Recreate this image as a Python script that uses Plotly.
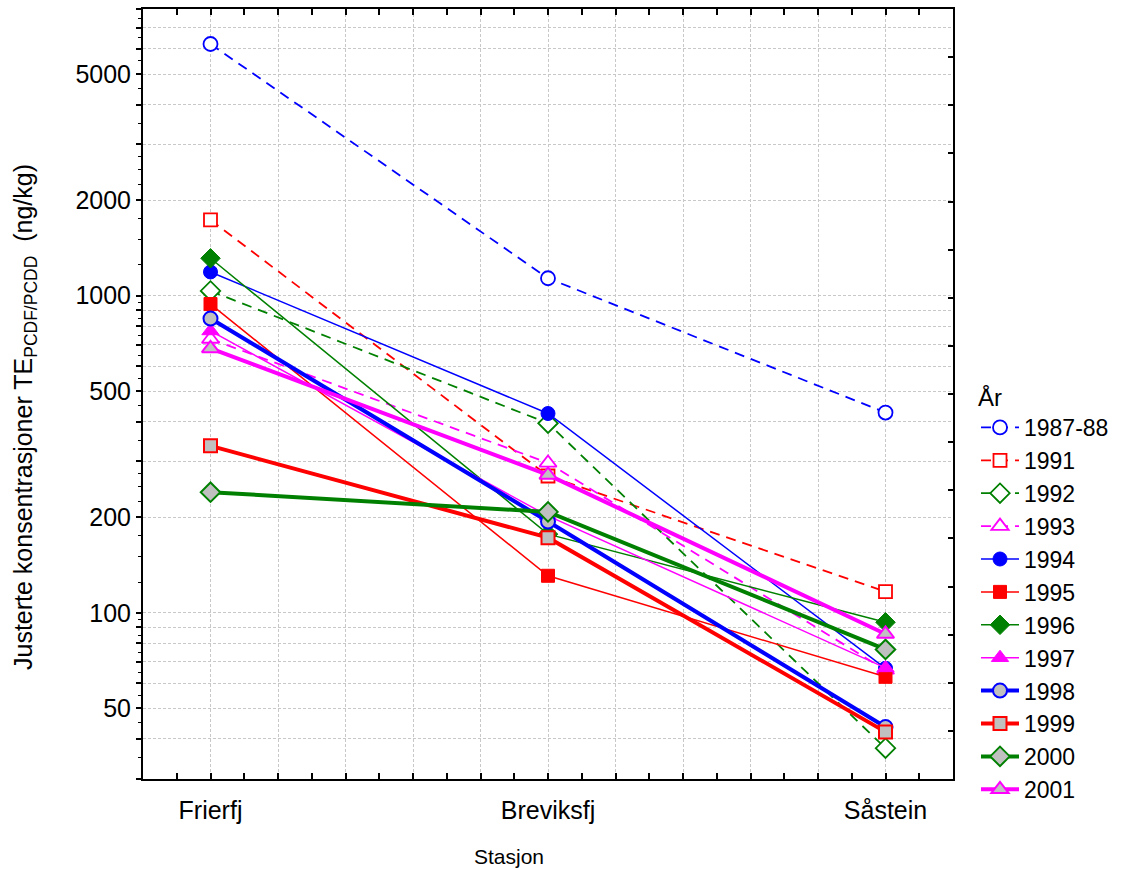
import plotly.graph_objects as go
import numpy as np

stations = ["Frierfj", "Breviksfj", "Såstein"]
years = ["1987-88", "1991", "1992", "1993", "1994", "1995", "1996", "1997", "1998", "1999", "2000", "2001"]

v_1987_88 = [6220, 1135, 428]
v_1991 = [1733, 270, 116.5]
v_1992 = [1035, 396, 37.4]
v_1993 = [730, 297, 66]
v_1994 = [1188, 425, 66.8]
v_1995 = [941, 130.8, 62.8]
v_1996 = [1312, 177, 93.3]
v_1997 = [774, 202, 67]
v_1998 = [847, 194, 43.6]
v_1999 = [336, 172.5, 42.1]
v_2000 = [240, 208, 76.6]
v_2001 = [682, 272, 85.7]

values = [v_1987_88, v_1991, v_1992, v_1993, v_1994, v_1995, v_1996, v_1997,
          v_1998, v_1999, v_2000, v_2001]

BLUE, RED, GREEN, MAG, GRAY = "#0000ff", "#ff0000", "#008000", "#ff00ff", "#c0c0c0"
colors = [BLUE, RED, GREEN, MAG] * 3
symbols = ["circle", "square", "diamond", "triangle-up"] * 3
msizes = {"circle": 14, "square": 13, "diamond": 15, "triangle-up": 15}

x_pos = list(range(len(stations)))

fig = go.Figure()
for i, (yr, vals) in enumerate(zip(years, values)):
    grp = i // 4
    c = colors[i]
    sym = symbols[i]
    if grp == 0:
        line = dict(color=c, width=1.8, dash="10px,7px")
        marker = dict(symbol=sym, size=msizes[sym], color="white", line=dict(color=c, width=1.8))
    elif grp == 1:
        line = dict(color=c, width=1.5)
        marker = dict(symbol=sym, size=msizes[sym], color=c, line=dict(color=c, width=1))
    else:
        line = dict(color=c, width=4)
        marker = dict(symbol=sym, size=msizes[sym], color=GRAY, line=dict(color=c, width=2))
    fig.add_trace(go.Scatter(x=x_pos, y=vals, name=yr, mode="lines+markers",
                             line=line, marker=marker, legendgroup=yr))

# empty trace for right-side axis ticks
fig.add_trace(go.Scatter(x=[], y=[], yaxis="y2", showlegend=False, hoverinfo="skip"))

# y axis ticks
grid_vals = []
for e in [1, 2, 3]:
    for d in range(1, 10):
        v = d * 10 ** e
        if 30 <= v <= 8000:
            grid_vals.append(v)
labels = {50: "50", 100: "100", 200: "200", 500: "500", 1000: "1000", 2000: "2000", 5000: "5000"}
grid_text = [labels.get(v, "") for v in grid_vals]
minor_vals = []
for e in [1, 2, 3]:
    b = 10 ** e
    for v in np.arange(1, 3, 0.25):
        minor_vals.append(v * b)
    for v in np.arange(3, 10, 0.5):
        minor_vals.append(v * b)
minor_vals = [float(v) for v in minor_vals if 30 <= v <= 8000 and v not in grid_vals]

FONT = "Liberation Sans, Arial, sans-serif"
GRIDC = "#c8c8c8"

xt = [round(-0.2 + 0.2 * k, 2) for k in range(13)]
xt_text = [stations[int(round(v))] if abs(v - round(v)) < 1e-6 and 0 <= round(v) < len(stations) else "" for v in xt]

fig.update_layout(
    width=1123, height=869,
    margin=dict(l=143, r=170, t=9, b=90, autoexpand=False),
    paper_bgcolor="white", plot_bgcolor="white",
    font=dict(family=FONT, size=25, color="black"),
    showlegend=True,
    legend=dict(
        x=(976 - 143) / 810, y=0.525, xanchor="left", yanchor="top",
        title=dict(text="År", font=dict(size=24)),
        font=dict(size=23), traceorder="grouped", tracegroupgap=0,
        bgcolor="rgba(0,0,0,0)", itemwidth=38,
    ),
    xaxis=dict(
        range=[-0.2, 2.2], tickmode="array", tickvals=xt, ticktext=xt_text,
        showgrid=True, gridcolor=GRIDC, griddash="3px,2px", gridwidth=1,
        ticks="inside", ticklen=6, tickwidth=1.5, tickcolor="black",
        minor=dict(dtick=0.1, tick0=0, ticks="inside", ticklen=3, tickwidth=1.5, tickcolor="black", showgrid=False),
        showline=True, linecolor="black", linewidth=2, mirror="allticks",
        zeroline=False, tickfont=dict(size=25), ticklabelstandoff=8,
    ),
    yaxis=dict(
        type="log", range=[np.log10(29.9), np.log10(8020)],
        tickmode="array", tickvals=grid_vals, ticktext=grid_text,
        showgrid=True, gridcolor=GRIDC, griddash="3px,2px", gridwidth=1,
        ticks="outside", ticklen=5, tickwidth=1.5, tickcolor="black",
        minor=dict(tickvals=minor_vals, ticks="outside", ticklen=3, tickwidth=1, tickcolor="black", showgrid=False),
        showline=True, linecolor="black", linewidth=2, mirror=True,
        zeroline=False, tickfont=dict(size=25),
    ),
    yaxis2=dict(
        overlaying="y", side="right", range=[0, 1], tickmode="linear", tick0=0, dtick=1 / 16,
        ticks="inside", ticklen=5, tickwidth=1.5, tickcolor="black", showticklabels=False,
        showgrid=False, zeroline=False, showline=False,
    ),
)

fig.add_annotation(
    text="Justerte konsentrasjoner TE<sub>PCDF/PCDD</sub>\u00a0\u00a0(ng/kg)",
    xref="paper", yref="paper", x=(25 - 143) / 810, y=(779 - 417) / 770,
    xanchor="center", yanchor="middle", textangle=-90, showarrow=False,
    font=dict(size=25, family=FONT),
)
fig.add_annotation(
    text="Stasjon", xref="paper", yref="paper", x=(509 - 143) / 810, y=(779 - 857) / 770,
    xanchor="center", yanchor="middle", showarrow=False, font=dict(size=21, family=FONT),
)

fig.write_html("out.html")
